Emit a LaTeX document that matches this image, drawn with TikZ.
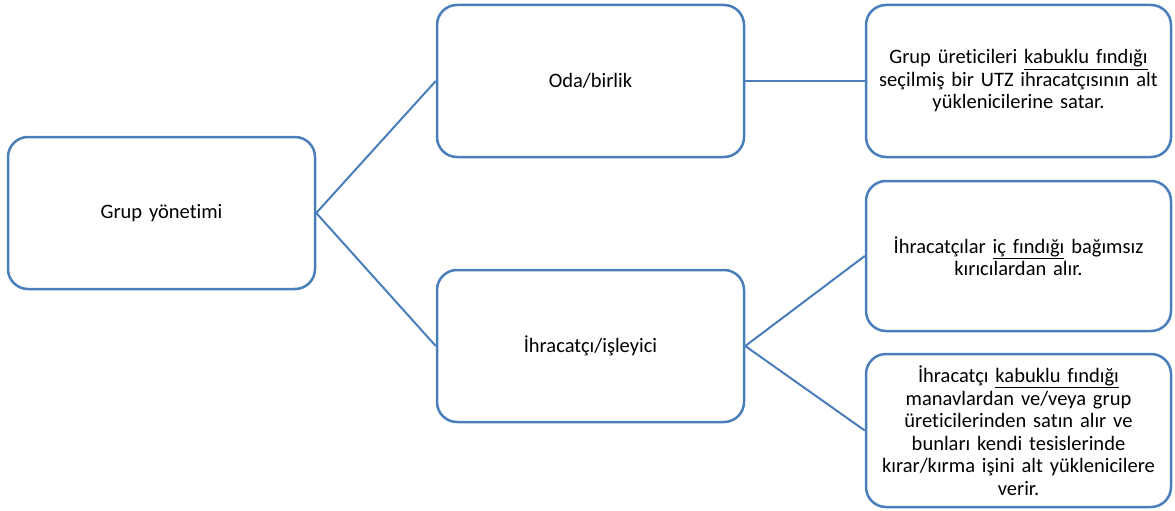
\documentclass[tikz,border=0pt]{standalone}
\usepackage{fontspec}
\setmainfont[Ligatures=NoCommon]{Carlito}
\usepackage{tikz}

\definecolor{boxblue}{HTML}{4A7EBB}

\begin{document}
\begin{tikzpicture}[box/.style = {draw=boxblue, line width=2.5pt, rounded corners=20pt, fill=white, minimum width=307pt, minimum height=152pt, align=center, font=\fontsize{20.5pt}{22.5pt}\selectfont, text width=295pt, inner sep=0pt}, node distance={429pt}, link/.style={draw=boxblue, line width=2pt}]
    \useasboundingbox (0,0) rectangle (1175pt,-511pt);
        \node[box] (g) at (161.5pt,-213pt) {Grup yönetimi};
        \node[box] (oda) [right of=g, yshift=132pt] {Oda/birlik};
        \node[box] (ihr) [right of=g, yshift=-133pt] {İhracatçı/işleyici};
        \node[box, minimum width=305pt] (r1) [right of=oda, xshift=-1pt] {Grup üreticileri \underline{kabuklu fındığı}\\ seçilmiş bir UTZ ihracatçısının alt\\ yüklenicilerine satar.};
        \node[box, minimum width=305pt, minimum height=150pt] (r2) [right of=ihr, xshift=-1pt, yshift=90pt] {İhracatçılar \underline{iç fındığı} bağımsız\\ kırıcılardan alır.};
        \node[box, minimum width=305pt, minimum height=153pt] (r3) [right of=ihr, xshift=-1pt, yshift=-84.5pt] {İhracatçı \underline{kabuklu fındığı}\\ manavlardan ve/veya grup\\ üreticilerinden satın alır ve\\ bunları kendi tesislerinde\\ kırar/kırma işini alt yüklenicilere\\ verir.};
        \draw[link] (g.east) -- (oda.west);
        \draw[link] (g.east) -- (ihr.west);
        \draw[link] (oda.east) -- (r1.west);
        \draw[link] (ihr.east) -- (r2.west);
        \draw[link] (ihr.east) -- (r3.west);
    \end{tikzpicture}
\end{document}
